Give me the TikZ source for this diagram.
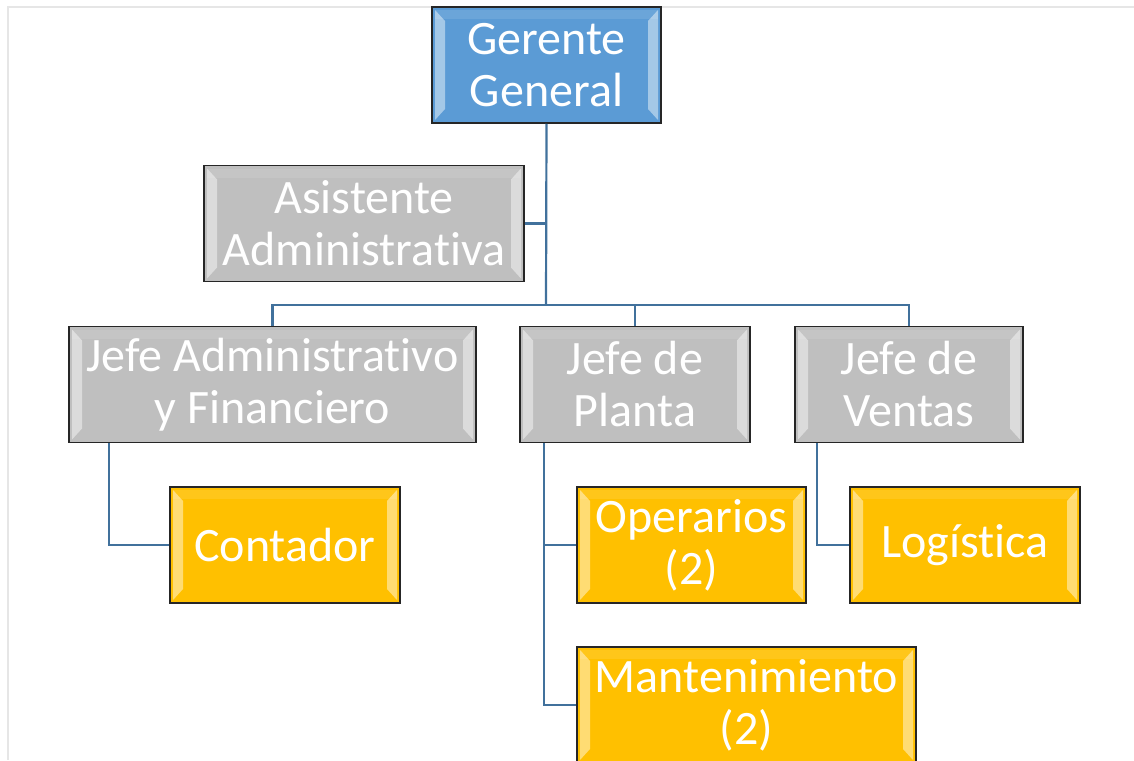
\documentclass[tikz,border=0pt]{standalone}
\usepackage{fontspec}
\setmainfont{Carlito}[Ligatures=NoCommon]
\definecolor{azulgerente}{RGB}{91,155,213}
\definecolor{grisjefe}{RGB}{191,191,191}
\definecolor{amarillo}{RGB}{255,192,0}
\definecolor{lineaazul}{RGB}{65,113,156}
\definecolor{marco}{RGB}{230,230,230}
\tikzset{
  bevel/.style={path picture={
    \fill[white,opacity=.45] ([shift={(3,3)}]path picture bounding box.north west) -- ++(10,11)
      -- ([shift={(13,-14)}]path picture bounding box.south west) -- ++(-10,11) -- cycle;
    \fill[white,opacity=.45] ([shift={(-3,3)}]path picture bounding box.north east) -- ++(-10,11)
      -- ([shift={(-13,-14)}]path picture bounding box.south east) -- ++(10,11) -- cycle;
    \fill[white,opacity=.1] ([shift={(3,3)}]path picture bounding box.north west) rectangle ([shift={(-3,12)}]path picture bounding box.north east);
  }},
  caja/.style={draw=black!85,line width=1.5pt,bevel,text=white,align=center,inner sep=0pt,
    minimum height=116pt,font=\fontsize{48}{52}\selectfont},
  conn/.style={draw=lineaazul,line width=2.2pt}
}
\begin{document}
\begin{tikzpicture}[x=1pt,y=-1pt]
	\useasboundingbox (0,0) rectangle (1134,760);
	% Marco %
	\draw[marco,line width=2pt] (8,760) -- (8,7) -- (1134,7);
	% Gerente y asistente %
	\node[caja,fill=azulgerente,minimum width=229pt] (gg) at (546.5,65) {Gerente\\General};
	\node[caja,fill=grisjefe,minimum width=320pt] (asis) at (364,223.5) {Asistente\\Administrativa};
	% Jefes %
	\node[caja,fill=grisjefe,minimum width=407pt] (jaf) at (272.5,384.5) {Jefe Administrativo\\y Financiero};
	\node[caja,fill=grisjefe,minimum width=230pt] (jp) at (635,384.5) {Jefe de\\Planta};
	\node[caja,fill=grisjefe,minimum width=228pt] (jv) at (909,384.5) {Jefe de\\Ventas};
	% Personal %
	\node[caja,fill=amarillo,minimum width=230pt] (cont) at (285,545) {Contador};
	\node[caja,fill=amarillo,minimum width=229pt] (oper) at (691.5,545) {Operarios\\(2)};
	\node[caja,fill=amarillo,minimum width=230pt] (logi) at (965,545) {Logística};
	\node[caja,fill=amarillo,minimum width=339pt] (mant) at (746.5,705) {Mantenimiento\\(2)};
	% Conectores %
	\coordinate (bus) at (546,305);
	\draw[conn] (gg.south) -- (bus);
	\draw[conn] (asis.east) -- (asis.east -| gg.south);
	\draw[conn] (jaf.north) |- (bus) -| (jv.north);
	\draw[conn] (jp.north) -- (jp.north |- bus);
	\draw[conn] ([xshift=41pt]jaf.south west) |- (cont.west);
	\draw[conn] ([xshift=25pt]jp.south west) |- (oper.west);
	\draw[conn] ([xshift=25pt]jp.south west) |- (mant.west);
	\draw[conn] ([xshift=23pt]jv.south west) |- (logi.west);
\end{tikzpicture}
\end{document}
